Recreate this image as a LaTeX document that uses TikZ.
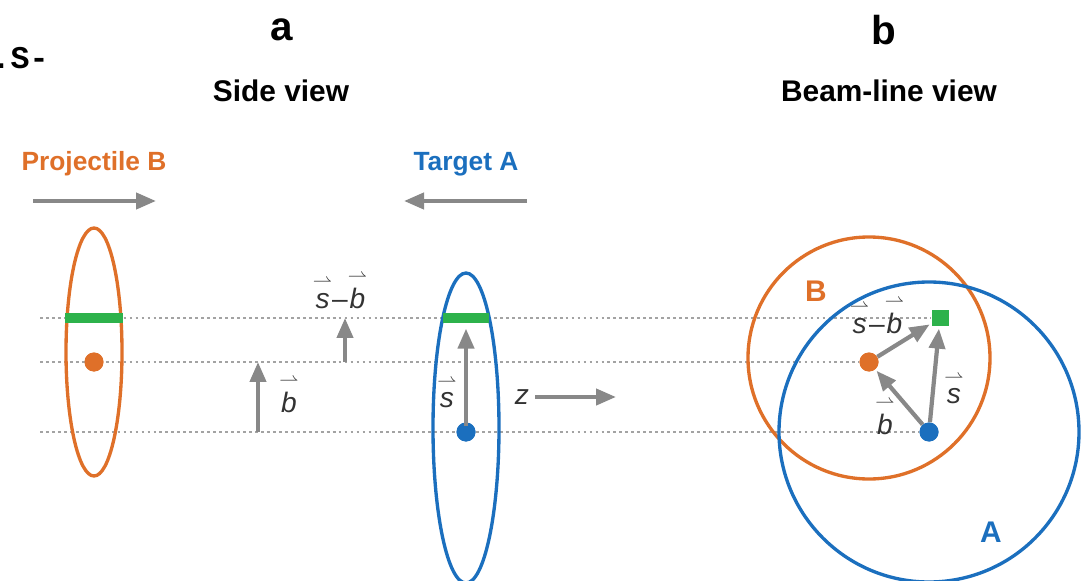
\documentclass[tikz,border=0pt]{standalone}
\usepackage{amsmath}
\usepackage{fontspec}
\setmainfont{Liberation Sans}
\newfontfamily\cutfont{Liberation Mono}
\usetikzlibrary{arrows.meta,positioning}

\definecolor{projorange}{HTML}{DF7029}
\definecolor{targblue}{HTML}{1B6FBE}
\definecolor{overlapgreen}{HTML}{2DB24B}
\definecolor{arrowgray}{HTML}{888888}
\definecolor{guidegray}{HTML}{A3A3A3}

\newcommand{\overrightharpoon}[1]{\overset{\scriptstyle\rightharpoonup}{#1}}
\newcommand{\vs}{$\overrightharpoon{\textit{s}}$}
\newcommand{\vb}{$\overrightharpoon{\textit{b}}$}

\begin{document}
\begin{tikzpicture}[
    x=0.02cm,y=-0.02cm,
    panel/.style={font=\bfseries\fontsize{23}{26}\selectfont},
    title/.style={font=\bfseries\fontsize{17}{20}\selectfont},
    nucleus/.style={font=\bfseries\fontsize{15}{18}\selectfont},
    vlabel/.style={font=\fontsize{16}{18}\selectfont,text=black!80},
    arrow/.style={-{Triangle[length=4mm,width=3.2mm]},line width=2.4pt,arrowgray},
    guide/.style={guidegray,line width=1pt,dash pattern=on 1.6pt off 1.8pt},
    dotnode/.style={circle,inner sep=0pt,minimum size=0.38cm},
    bar/.style={rectangle,inner sep=0pt,fill=overlapgreen,minimum height=0.2cm},
    ring/.style={line width=1.9pt}
    ]

    \useasboundingbox (0,0) rectangle (1089,581);

    % cut-off text at the left edge
    \node[anchor=east,inner sep=0pt,font=\cutfont\bfseries\fontsize{18}{20}\selectfont] (cut) at (49,58) {.S-};

    % headings
    \node[panel] (pa) at (282,30) {a};
    \node[panel] (pb) at (884,30) {b};
    \node[title] (side) at (281,91) {Side view};
    \node[title] (beam) at (889,91) {Beam-line view};
    \node[nucleus,text=projorange] (projlabel) at (94,164) {Projectile B};
    \node[nucleus,text=targblue] (targlabel) at (466,164) {Target A};

    % directions of motion
    \coordinate (projstart) at (33,201);
    \coordinate (projend) at (156,201);
    \coordinate (targstart) at (527,201);
    \coordinate (targend) at (404,201);
    \draw[arrow] (projstart)--(projend);
    \draw[arrow] (targstart)--(targend);

    % nodes of both views
    \node[dotnode,fill=projorange] (dotB) at (94,362) {};
    \node[dotnode,fill=targblue] (dotA) at (466,432) {};
    \node[bar,minimum width=1.16cm] (barB) at (94,318) {};
    \node[bar,minimum width=0.92cm] (barA) at (466,318) {};
    \node[dotnode,fill=projorange] (dotBR) at (869,362) {};
    \node[dotnode,fill=targblue] (dotAR) at (929,432) {};
    \node[rectangle,inner sep=0pt,fill=overlapgreen,minimum size=0.34cm] (sqR) at (940,318) {};

    % dotted guide lines
    \coordinate (gtop) at (40,318);
    \coordinate (gmid) at (40,362);
    \coordinate (glow) at (40,432);
    \draw[guide] (gtop)--(sqR.west);
    \draw[guide] (gmid)--(dotBR.west);
    \draw[guide] (glow)--(dotAR.west);

    % side view
    \draw[ring,projorange] (94,352) ellipse [x radius=28,y radius=124];
    \draw[ring,targblue] (466,428) ellipse [x radius=33,y radius=155];
    \node[bar,minimum width=1.16cm] at (barB) {};
    \node[bar,minimum width=0.92cm] at (barA) {};
    \node[dotnode,fill=projorange] at (dotB) {};
    \node[dotnode,fill=targblue] at (dotA) {};

    \draw[arrow,shorten <=-2pt,shorten >=3pt] (dotA)--(barA.south);
    \node[vlabel] (slabel) at (447,392) {\vs};

    \node[vlabel] (zlabel) at (522,397) {$\textit{z}$};
    \coordinate (zend) at (616,397);
    \draw[arrow] (zlabel.east)--(zend);

    \coordinate (bfoot) at (258,432);
    \coordinate (bhead) at (258,362);
    \draw[arrow] (bfoot)--(bhead);
    \node[vlabel] (blabel) at (289,394) {\vb};

    \coordinate (sbfoot) at (345,362);
    \coordinate (sbhead) at (345,318);
    \draw[arrow] (sbfoot)--(sbhead);
    \node[vlabel] (sblabel) at (340,290) {\vs--\vb};

    % beam-line view
    \draw[ring,projorange] (869,358) circle [radius=121];
    \draw[ring,targblue] (929,432) circle [radius=150];
    \node[nucleus,text=projorange,font=\bfseries\fontsize{17}{20}\selectfont] (Blabel) at (816,291) {B};
    \node[nucleus,text=targblue,font=\bfseries\fontsize{17}{20}\selectfont] (Alabel) at (991,532) {A};

    \draw[arrow,shorten >=1pt] (dotAR)--(dotBR);
    \draw[arrow,shorten >=1pt] (dotBR)--(sqR);
    \draw[arrow,shorten >=1pt] (dotAR)--(sqR);
    \node[dotnode,fill=projorange] at (dotBR) {};
    \node[dotnode,fill=targblue] at (dotAR) {};

    \node[vlabel] (sblabelR) at (877,315) {\vs--\vb};
    \node[vlabel] (blabelR) at (885,416) {\vb};
    \node[vlabel] (slabelR) at (954,388) {\vs};

  \end{tikzpicture}
\end{document}
